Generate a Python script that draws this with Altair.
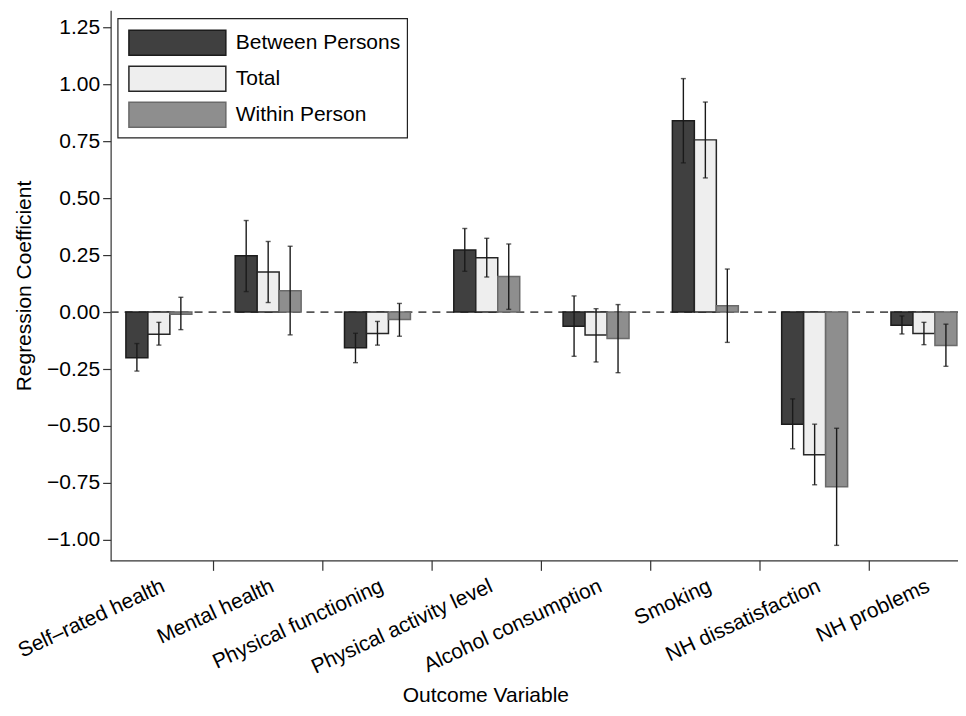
import altair as alt
import pandas as pd

categories = ["Self\u2013rated health", "Mental health", "Physical functioning",
              "Physical activity level", "Alcohol consumption", "Smoking",
              "NH dissatisfaction", "NH problems"]
series = ["Between Persons", "Total", "Within Person"]

between = [-0.200, 0.247, -0.157, 0.273, -0.062, 0.840, -0.492, -0.058]
between_lo = [-0.259, 0.090, -0.222, 0.179, -0.194, 0.655, -0.600, -0.096]
between_hi = [-0.138, 0.402, -0.093, 0.367, 0.071, 1.025, -0.381, -0.017]

total = [-0.097, 0.176, -0.094, 0.239, -0.101, 0.756, -0.626, -0.094]
total_lo = [-0.145, 0.042, -0.145, 0.154, -0.219, 0.589, -0.758, -0.143]
total_hi = [-0.045, 0.310, -0.041, 0.324, 0.015, 0.922, -0.492, -0.045]

within = [-0.010, 0.094, -0.033, 0.156, -0.116, 0.028, -0.767, -0.147]
within_lo = [-0.077, -0.100, -0.106, 0.012, -0.266, -0.133, -1.024, -0.238]
within_hi = [0.065, 0.289, 0.038, 0.299, 0.033, 0.189, -0.510, -0.053]

y_ticks = [-1.0, -0.75, -0.5, -0.25, 0.0, 0.25, 0.5, 0.75, 1.0, 1.25]
y_domain = [-1.092, 1.325]

rows = []
for i, c in enumerate(categories):
    vals = [between[i], total[i], within[i]]
    los = [between_lo[i], total_lo[i], within_lo[i]]
    his = [between_hi[i], total_hi[i], within_hi[i]]
    for s, v, lo, hi in zip(series, vals, los, his):
        rows.append(dict(cat=c, series=s, value=v, lo=lo, hi=hi))
df = pd.DataFrame(rows)

FONT = "Liberation Sans"
FS = 21
fills = ["#404040", "#eeeeee", "#8e8e8e"]
strokes = ["#1c1c1c", "#262626", "#6a6a6a"]
ERR = "#1a1a1a"
AXC = "#333333"

fill_enc = alt.Fill("series:N", scale=alt.Scale(domain=series, range=fills), legend=None)
stroke_enc = alt.Stroke("series:N", scale=alt.Scale(domain=series, range=strokes), legend=None)

xscale = alt.Scale(domain=categories, range=[-6.4, 868.6], paddingInner=0, paddingOuter=0)
offscale = alt.Scale(domain=series, paddingInner=0, paddingOuter=0.986)
yscale = alt.Scale(domain=y_domain, nice=False, zero=False)

# axis ticks kept (for label offset) but invisible; group-boundary ticks drawn below
xaxis = alt.Axis(title="Outcome Variable", labelAngle=-25, labelAlign="right",
                 labelBaseline="top", tickSize=10, tickOpacity=0, domain=False,
                 labelPadding=4, labelLimit=0, titleX=375, titleY=141,
                 titleBaseline="alphabetic", titleAlign="center", grid=False)
yaxis = alt.Axis(title="Regression Coefficient", values=y_ticks, format=".2f",
                 tickSize=8, labelPadding=3, titlePadding=12, grid=False)

X = alt.X("cat:N", scale=xscale, sort=categories, axis=xaxis)
XO = alt.XOffset("series:N", scale=offscale, sort=series)

base = alt.Chart(df)

zero = alt.Chart(pd.DataFrame({"y": [0.0]})).mark_rule(
    color="#555555", strokeWidth=1.6, strokeDash=[8, 6]).encode(
    y=alt.Y("y:Q", scale=yscale, axis=yaxis))

xline = alt.Chart(pd.DataFrame({"y": [y_domain[0]]})).mark_rule(
    color=AXC, strokeWidth=1.2).encode(
    y=alt.Y("y:Q", scale=yscale, axis=yaxis))

xticks = alt.Chart(pd.DataFrame({"cat": categories[1:]})).mark_rule(
    color=AXC, strokeWidth=1.2).encode(
    x=alt.X("cat:N", scale=xscale, sort=categories, axis=xaxis, bandPosition=0),
    y=alt.value(551), y2=alt.value(561))

bars = base.mark_bar(strokeWidth=1.5).encode(
    x=X, xOffset=XO,
    y=alt.Y("value:Q", scale=yscale, axis=yaxis),
    y2=alt.datum(0),
    fill=fill_enc, stroke=stroke_enc)

err = base.mark_rule(color=ERR, strokeWidth=1.4).encode(
    x=X, xOffset=XO,
    y=alt.Y("lo:Q", scale=yscale, axis=yaxis), y2="hi:Q")

cap_lo = base.mark_tick(color=ERR, thickness=1.4, size=5).encode(
    x=X, xOffset=XO, y=alt.Y("lo:Q", scale=yscale, axis=yaxis))
cap_hi = base.mark_tick(color=ERR, thickness=1.4, size=5).encode(
    x=X, xOffset=XO, y=alt.Y("hi:Q", scale=yscale, axis=yaxis))

main = alt.layer(zero, bars, err, cap_lo, cap_hi, xline, xticks)

# legend
leg_df = pd.DataFrame({"series": series})
ly = alt.Y("series:N", sort=series,
           scale=alt.Scale(domain=series, range=[20, 117], paddingInner=0.3056, paddingOuter=0),
           axis=None)
frame = alt.Chart(pd.DataFrame({"a": [0]})).mark_rect(
    fill="white", stroke="#222222", strokeWidth=1.2).encode(
    x=alt.value(7.3), x2=alt.value(297), y=alt.value(8.3), y2=alt.value(127.7))
swatches = alt.Chart(leg_df).mark_rect(strokeWidth=1.5).encode(
    x=alt.value(18.3), x2=alt.value(115.3), y=ly, fill=fill_enc, stroke=stroke_enc)
labels = alt.Chart(leg_df).mark_text(align="left", baseline="middle", fontSize=FS,
                                     font=FONT, color="black").encode(
    x=alt.value(125.3), y=ly, text="series:N")
legend = alt.layer(frame, swatches, labels)

chart = alt.layer(main, legend).resolve_scale(y="independent").properties(
    width=848, height=551,
    padding={"left": 102.7, "top": 2, "right": 0, "bottom": 146},
    autosize=alt.AutoSizeParams(type="none"),
).configure(font=FONT).configure_view(stroke=None).configure_axis(
    labelFont=FONT, titleFont=FONT, labelFontSize=FS, titleFontSize=FS,
    labelColor="black", titleColor="black", domainColor=AXC,
    tickColor=AXC, titleFontWeight="normal", domainWidth=1.2, tickWidth=1.2)

chart.save("out.html", embed_options={"renderer": "svg", "actions": False})
